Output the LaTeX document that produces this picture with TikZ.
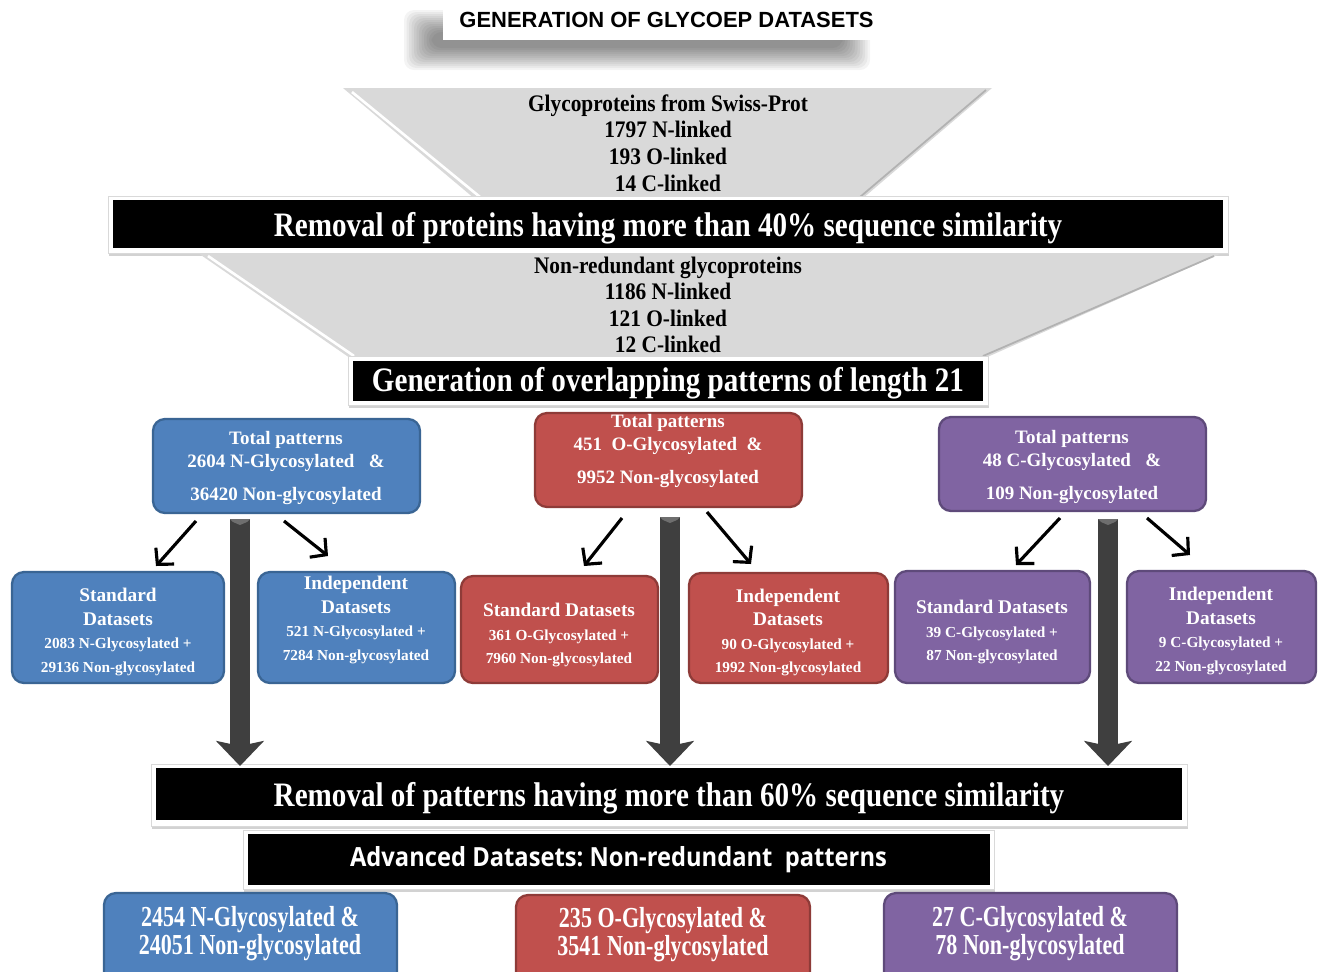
\documentclass[tikz,border=0pt]{standalone}
\usepackage{fontspec}
\setmainfont{Liberation Serif}
\newfontfamily\sansf{Liberation Sans}
\newfontfamily\advf[FakeStretch=0.9]{Open Sans}
\newfontfamily\barf[FakeStretch=0.85]{Liberation Serif}
\newfontfamily\botf[FakeStretch=0.76]{Liberation Serif}
\newfontfamily\funf[FakeStretch=0.9]{Liberation Serif}
\usetikzlibrary{arrows.meta,shadows}
\definecolor{nblue}{HTML}{4F81BD}
\definecolor{nbluedk}{HTML}{3A6594}
\definecolor{ored}{HTML}{C0504D}
\definecolor{oreddk}{HTML}{8E3B38}
\definecolor{cpur}{HTML}{8064A2}
\definecolor{cpurdk}{HTML}{5E4A7A}
\definecolor{funnelgray}{HTML}{D9D9D9}
\definecolor{shaftgray}{HTML}{3F3F3F}
\definecolor{bevelgray}{HTML}{6E6E6E}
\tikzset{
  box/.style={rounded corners=0.24cm, line width=1.3pt, inner sep=0pt},
  bluebox/.style={box, fill=nblue, draw=nbluedk},
  redbox/.style={box, fill=ored, draw=oreddk},
  purbox/.style={box, fill=cpur, draw=cpurdk},
  toptext/.style={text=white, align=center, inner sep=0pt,
    font=\bfseries\fontsize{10.8}{13}\selectfont},
  subtext/.style={text=white, align=center, inner sep=0pt,
    font=\bfseries\fontsize{11}{13.3}\selectfont},
  bottext/.style={text=white, align=center, inner sep=0pt,
    font=\botf\bfseries\fontsize{16.5}{15.9}\selectfont},
  frame/.style={fill=white, draw=gray!30, line width=0.5pt,
    drop shadow={shadow xshift=0.6pt, shadow yshift=-1.6pt, opacity=0.35}},
  bar/.style={fill=black, text=white, inner sep=0pt},
  bartext/.style={text=white, inner sep=0pt, font=\barf\bfseries\fontsize{19.5}{22}\selectfont},
  thinarrow/.style={draw=black, line width=1.8pt, -{Straight Barb[length=6.5pt,width=14pt]}},
  thickarrow/.style={draw=shaftgray, line width=0.4cm, -{Stealth[length=0.5cm,width=0.95cm,inset=0.1cm]}},
  bevel/.style={fill=bevelgray},
}
\newcommand{\dt}{\fontsize{8.7}{13.3}\selectfont}
\begin{document}
\begin{tikzpicture}[x=0.02cm,y=-0.02cm]
\useasboundingbox (0,0) rectangle (1318,971);
\clip (0,0) rectangle (1318,971);
\fill[white] (0,0) rectangle (1318,971);

% ---- title with blurred shadow
\foreach \k in {0,...,11}{
  \fill[black, opacity=0.045, rounded corners=0.2cm] ({404+2.5*\k},{10+2*\k}) rectangle ({870-2.5*\k},{70-2*\k});
}
\node[fill=white, minimum width=447*0.02cm, minimum height=40*0.02cm, inner sep=0pt,
  font=\sansf\bfseries\fontsize{12.5}{14}\selectfont] (title) at (666.5,20) {GENERATION OF GLYCOEP DATASETS};

% ---- funnel 1
\fill[funnelgray] (343,88) -- (992,88) -- (862,199) -- (475,199) -- cycle;
\draw[white, line width=1.5pt] (352,92) -- (480,197);
\draw[gray!60, line width=1pt] (986,90) -- (860,197);
\node[align=center, inner sep=0pt, font=\funf\bfseries\fontsize{13.5}{15.1}\selectfont] (f1) at (668,143)
  {Glycoproteins from Swiss-Prot\\1797 N-linked\\193 O-linked\\14 C-linked};

% ---- bar 1
\node[frame, minimum width=1120*0.02cm, minimum height=57*0.02cm] (fr1) at (668,224.5) {};
\node[bar, minimum width=1110*0.02cm, minimum height=48*0.02cm] (bar1) at (668,224) {};
\node[bartext] at ([yshift=-0.08cm]bar1.center) {Removal of proteins having more than 40\% sequence similarity};

% ---- funnel 2
\fill[funnelgray] (198,253) -- (1222,253) -- (985,358) -- (350,358) -- cycle;
\draw[white, line width=1.5pt] (208,256) -- (354,356);
\draw[gray!60, line width=1pt] (1214,256) -- (983,356);
\node[align=center, inner sep=0pt, font=\funf\bfseries\fontsize{13.5}{15.1}\selectfont] (f2) at (668,305)
  {Non-redundant glycoproteins\\1186 N-linked\\121 O-linked\\12 C-linked};

% ---- bar 2
\node[frame, minimum width=640*0.02cm, minimum height=49*0.02cm] (fr2) at (668,380.5) {};
\node[bar, minimum width=630*0.02cm, minimum height=40*0.02cm] (bar2) at (668,380.5) {};
\node[bartext] at ([yshift=-0.05cm]bar2.center) {Generation of overlapping patterns of length 21};

% ---- top boxes
\node[bluebox, minimum width=267*0.02cm, minimum height=94*0.02cm] (bt) at (286.5,466) {};
\node[redbox,  minimum width=267*0.02cm, minimum height=94*0.02cm] (rt) at (668.5,460) {};
\node[purbox,  minimum width=267*0.02cm, minimum height=94*0.02cm] (pt) at (1072.5,464) {};

% ---- bar 3 (drawn early so arrows sit on it)
\node[frame, minimum width=1036*0.02cm, minimum height=62*0.02cm] (fr3) at (669,795) {};
\node[bar, minimum width=1026*0.02cm, minimum height=52*0.02cm] (bar3) at (669,794) {};
\node[bartext] at ([yshift=-0.09cm]bar3.center) {Removal of patterns having more than 60\% sequence similarity};

% ---- thick arrows
\coordinate (bts) at (240,519);
\coordinate (btd) at (240,766);
\coordinate (rts) at (670,517);
\coordinate (rtd) at (670,766);
\coordinate (pts) at (1108,519);
\coordinate (ptd) at (1108,766);
\draw[thickarrow] (bts) -- (btd);
\draw[thickarrow] (rts) -- (rtd);
\draw[thickarrow] (pts) -- (ptd);
\foreach \c in {bts,rts,pts}{
  \fill[bevel] ([xshift=-0.2cm]\c) -- ([xshift=0.2cm]\c) -- ([xshift=0.14cm,yshift=-0.06cm]\c) -- ([yshift=-0.12cm]\c) -- ([xshift=-0.14cm,yshift=-0.06cm]\c) -- cycle;
}

\node[toptext] at (286,468) {Total patterns\\2604 N-Glycosylated~~~\&\\[5.5pt]36420 Non-glycosylated};
\node[toptext] at (668,451) {Total patterns\\451~~O-Glycosylated~~\&\\[5.5pt]9952 Non-glycosylated};
\node[toptext] at (1072,467) {Total patterns\\48 C-Glycosylated~~~\&\\[5.5pt]109 Non-glycosylated};

% ---- lower boxes
\node[bluebox, minimum width=212*0.02cm, minimum height=111*0.02cm] (bs) at (118,627.5) {};
\node[bluebox, minimum width=197*0.02cm, minimum height=111*0.02cm] (bi) at (356.5,627.5) {};
\node[redbox,  minimum width=197*0.02cm, minimum height=107*0.02cm] (rs) at (559.5,629.5) {};
\node[redbox,  minimum width=199*0.02cm, minimum height=110*0.02cm] (ri) at (788.5,628) {};
\node[purbox,  minimum width=195*0.02cm, minimum height=112*0.02cm] (ps) at (992.5,627) {};
\node[purbox,  minimum width=189*0.02cm, minimum height=112*0.02cm] (pi) at (1221.5,627) {};

\node[subtext] at (118,632) {Standard\\Datasets\\{\dt 2083 N-Glycosylated +}\\{\dt 29136 Non-glycosylated}};
\node[subtext] at (356,620) {Independent\\Datasets\\{\dt 521 N-Glycosylated +}\\{\dt 7284 Non-glycosylated}};
\node[subtext] at (559,635) {Standard Datasets\\{\dt 361 O-Glycosylated +}\\{\dt 7960 Non-glycosylated}};
\node[subtext] at (788,632.5) {Independent\\Datasets\\{\dt 90 O-Glycosylated +}\\{\dt 1992 Non-glycosylated}};
\node[subtext] at (992,632) {Standard Datasets\\{\dt 39 C-Glycosylated +}\\{\dt 87 Non-glycosylated}};
\node[subtext] at (1221,631) {Independent\\Datasets\\{\dt 9 C-Glycosylated +}\\{\dt 22 Non-glycosylated}};

% ---- thin arrows
\coordinate (b1a) at (196,521); \coordinate (b1b) at (156,566);
\coordinate (b2a) at (284,521); \coordinate (b2b) at (328,556);
\coordinate (r1a) at (622,518); \coordinate (r1b) at (584,566);
\coordinate (r2a) at (707,512); \coordinate (r2b) at (751,564);
\coordinate (p1a) at (1060,518); \coordinate (p1b) at (1016,565);
\coordinate (p2a) at (1147,518); \coordinate (p2b) at (1190,555);
\draw[thinarrow] (b1a) -- (b1b);
\draw[thinarrow] (b2a) -- (b2b);
\draw[thinarrow] (r1a) -- (r1b);
\draw[thinarrow] (r2a) -- (r2b);
\draw[thinarrow] (p1a) -- (p1b);
\draw[thinarrow] (p2a) -- (p2b);

% ---- bar 4
\node[frame, minimum width=751*0.02cm, minimum height=59*0.02cm] (fr4) at (618.5,859.5) {};
\node[bar, minimum width=742*0.02cm, minimum height=51*0.02cm] (bar4) at (618.5,859.5) {};
\node[text=white, inner sep=0pt, font=\advf\bfseries\fontsize{15}{18}\selectfont] at (bar4.center) {Advanced Datasets:~Non-redundant~~patterns};

% ---- bottom boxes
\node[bluebox, minimum width=293*0.02cm, minimum height=110*0.02cm] (bb) at (250.5,948) {};
\node[redbox,  minimum width=294*0.02cm, minimum height=110*0.02cm] (rb) at (663,950) {};
\node[purbox,  minimum width=293*0.02cm, minimum height=110*0.02cm] (pb) at (1030.5,948) {};
\node[bottext] at (250,934) {2454 N-Glycosylated \&\\24051 Non-glycosylated};
\node[bottext] at (663,935) {235 O-Glycosylated \&\\3541 Non-glycosylated};
\node[bottext] at (1030,934) {27 C-Glycosylated \&\\78 Non-glycosylated};
\end{tikzpicture}
\end{document}
